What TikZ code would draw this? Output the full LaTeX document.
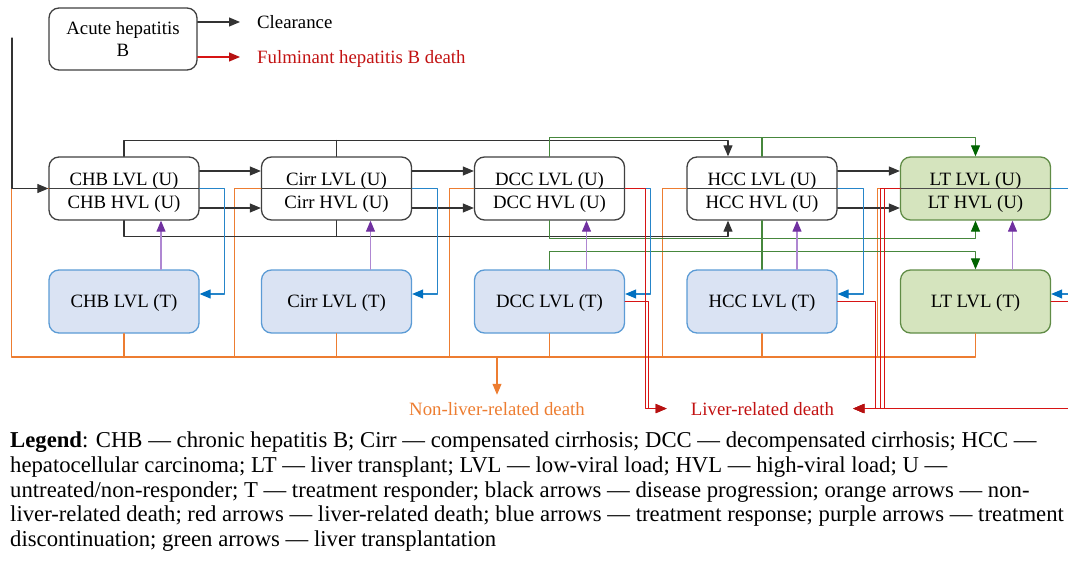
\documentclass[tikz,border=0pt]{standalone}
\usepackage{fontspec}
\setmainfont{Liberation Serif}
\usepackage{xcolor}
\usetikzlibrary{arrows.meta}
\definecolor{OrangeLine}{RGB}{237,125,49}
\definecolor{BlueLine}{RGB}{0,112,192}
\definecolor{RedLine}{RGB}{215,20,20}
\definecolor{GreenLine}{RGB}{70,135,60}
\definecolor{GreenHead}{RGB}{0,100,0}
\definecolor{PurpleLine}{RGB}{175,135,210}
\definecolor{PurpleHead}{RGB}{112,48,160}
\definecolor{TFill}{RGB}{218,227,243}
\definecolor{TLine}{RGB}{91,155,213}
\definecolor{LTFill}{RGB}{213,228,190}
\definecolor{LTLine}{RGB}{96,140,70}
\newcommand{\BoxFont}{\fontsize{18.8}{22.5}\selectfont}
\newcommand{\LegendFont}{\fontsize{22.7}{24.6}\selectfont}
\newcommand{\SplitText}[2]{\rule{0pt}{21.5pt}#1\\#2}

\begin{document}
\begin{tikzpicture}[line cap=round,line join=round,
  >={Triangle[length=11pt,width=9pt]},x=1pt,y=1pt,
  every node/.style={font=\BoxFont},
  ubox/.style={draw=black!75,line width=1.3pt,rounded corners=10pt,
    minimum width=150pt,minimum height=63pt,align=center,fill=white},
  tbox/.style={ubox,draw=TLine,fill=TFill,execute at begin node={\rule{0pt}{17pt}}},
  ltbox/.style={draw=LTLine,fill=LTFill},
  lbl/.style={inner sep=0pt},
  blk/.style={draw=black!80,line width=1.1pt},
  org/.style={draw=OrangeLine,line width=1.1pt,>={Triangle[length=11pt,width=9pt,color=OrangeLine]}},
  blu/.style={draw=BlueLine!85,line width=1.1pt,>={Triangle[length=11pt,width=9pt,color=BlueLine]}},
  rd/.style={draw=RedLine,line width=1.1pt,>={Triangle[length=11pt,width=9pt,color=RedLine!85!black]}},
  grn/.style={draw=GreenLine,line width=1.1pt,>={Triangle[length=11pt,width=9pt,color=GreenHead]}},
  pur/.style={draw=PurpleLine,line width=1.1pt,>={Triangle[length=11pt,width=9pt,color=PurpleHead]}}]
  \useasboundingbox (0,0) rectangle (1068,-564);
  \clip (0,0) rectangle (1068,-564);

  % states
  \node[ubox,minimum width=148pt,minimum height=62pt] (acute) at (123,-39) {Acute hepatitis\\B};
  \node[lbl,anchor=base west] (clear) at (257,-28.5) {Clearance};
  \node[lbl,anchor=base west,text=RedLine!90!black] (fhb) at (257,-63.5) {Fulminant hepatitis B death};
  \node[ubox] (chbU) at (124,-188.5) {\SplitText{CHB LVL (U)}{CHB HVL (U)}};
  \node[ubox] (cirrU) at (336.5,-188.5) {\SplitText{Cirr LVL (U)}{Cirr HVL (U)}};
  \node[ubox] (dccU) at (549.5,-188.5) {\SplitText{DCC LVL (U)}{DCC HVL (U)}};
  \node[ubox] (hccU) at (762,-188.5) {\SplitText{HCC LVL (U)}{HCC HVL (U)}};
  \node[ubox,ltbox] (ltU) at (975.5,-188.5) {\SplitText{LT LVL (U)}{LT HVL (U)}};
  \node[tbox] (chbT) at (124,-301.5) {CHB LVL (T)};
  \node[tbox] (cirrT) at (336.5,-301.5) {Cirr LVL (T)};
  \node[tbox] (dccT) at (549.5,-301.5) {DCC LVL (T)};
  \node[tbox] (hccT) at (762,-301.5) {HCC LVL (T)};
  \node[tbox,ltbox] (ltT) at (975.5,-301.5) {LT LVL (T)};
  \node[lbl,anchor=base,text=OrangeLine] (nld) at (497,-415) {Non-liver-related death};
  \node[lbl,anchor=base,text=RedLine!90!black] (ld) at (762.5,-415) {Liver-related death};
  \coordinate (inflow) at (12,-38);

  % LVL / HVL split
  \draw[black!75,line width=1pt] (chbU.west) -- (chbU.east);
  \draw[black!75,line width=1pt] (cirrU.west) -- (cirrU.east);
  \draw[black!75,line width=1pt] (dccU.west) -- (dccU.east);
  \draw[black!75,line width=1pt] (hccU.west) -- (hccU.east);
  \draw[black!70,line width=1pt] (ltU.west) -- (ltU.east);

  % non-liver-related death
  \draw[org] (chbU.west) -- ++(-37,0) -- ++(0,-168.5) -| (ltT.south);
  \draw[org] (cirrU.west) -- ++(-26,0) -- ++(0,-168.5);
  \draw[org] (dccU.west) -- ++(-24.5,0) -- ++(0,-168.5);
  \draw[org] (hccU.west) -- ++(-24,0) -- ++(0,-168.5);
  \draw[org] (ltU.west) -- ++(-22,0) -- ++(0,-168.5);
  \draw[org] (chbT.south) -- ++(0,-24);
  \draw[org] (cirrT.south) -- ++(0,-24);
  \draw[org] (dccT.south) -- ++(0,-24);
  \draw[org] (hccT.south) -- ++(0,-24);
  \draw[org,->] ([yshift=45]nld.north) -- ([yshift=7]nld.north);

  % disease progression
  \draw[blk,->] ([yshift=17]acute.east) -- ([xshift=-17,yshift=6.5]clear.base west);
  \draw[blk,->] (inflow) |- (chbU.west);
  \draw[blk,->] ([yshift=17.5]chbU.east) -- ([yshift=17.5]cirrU.west);
  \draw[blk,->] ([yshift=-19.5]chbU.east) -- ([yshift=-19.5]cirrU.west);
  \draw[blk,->] ([yshift=17.5]cirrU.east) -- ([yshift=17.5]dccU.west);
  \draw[blk,->] ([yshift=-19.5]cirrU.east) -- ([yshift=-19.5]dccU.west);
  \draw[blk,->] ([yshift=17.5]hccU.east) -- ([yshift=17.5]ltU.west);
  \draw[blk,->] ([yshift=-19.5]hccU.east) -- ([yshift=-19.5]ltU.west);
  \draw[blk,->] (chbU.north) -- ++(0,16) -| ([xshift=-34]hccU.north);
  \draw[blk] (cirrU.north) -- ++(0,16);
  \draw[blk,->] (chbU.south) -- ++(0,-16) -| ([xshift=-34]hccU.south);
  \draw[blk] (cirrU.south) -- ++(0,-16);

  % liver transplantation
  \draw[grn,->] (dccU.north) -- ++(0,18.5) -| (ltU.north);
  \draw[grn] (hccU.north) -- ++(0,18.5);
  \draw[grn,->] (dccU.south) -- ++(0,-18) -| (ltU.south);
  \draw[grn,->] (dccT.north) -- ++(0,18) -| (ltT.north);
  \draw[grn] (hccU.south) -- (hccT.north);

  % treatment discontinuation
  \draw[pur,->] ([xshift=37]chbT.north) -- ([xshift=37]chbU.south);
  \draw[pur,->] ([xshift=34]cirrT.north) -- ([xshift=34]cirrU.south);
  \draw[pur,->] ([xshift=37]dccT.north) -- ([xshift=37]dccU.south);
  \draw[pur,->] ([xshift=35]hccT.north) -- ([xshift=35]hccU.south);
  \draw[pur,->] ([xshift=37]ltT.north) -- ([xshift=37]ltU.south);

  % treatment response
  \draw[blu,->] (chbU.east) -- ++(25,0) |- ([yshift=7.5]chbT.east);
  \draw[blu,->] (cirrU.east) -- ++(25.5,0) |- ([yshift=7.5]cirrT.east);
  \draw[blu,->] (dccU.east) -- ++(25.5,0) |- ([yshift=7.5]dccT.east);
  \draw[blu,->] (hccU.east) -- ++(26,0) |- ([yshift=7.5]hccT.east);
  \draw[blu,->] (ltU.east) -- ++(30,0) |- ([yshift=7.5]ltT.east);

  % liver-related death
  \draw[rd,->] ([yshift=-18]acute.east) -- ([xshift=-17,yshift=6.5]fhb.base west);
  \draw[rd,->] (dccU.east) -- ++(20.5,0) |- ([xshift=-24]ld.west);
  \draw[rd,->] (dccT.east) -- ++(23,0) |- ([xshift=-24]ld.west);
  \draw[rd,->] (hccT.east) -- ++(38,0) |- ([xshift=19]ld.east);
  \draw[rd,->] (ltU.west) -- ++(-19,0) |- ([xshift=19]ld.east);
  \draw[rd,->] (ltU.west) -- ++(-15,0) |- ([xshift=19]ld.east);
  \draw[rd,->] (ltT.east) -- ++(25,0) |- ([xshift=19]ld.east);

  \node[lbl,anchor=north west,align=left,font=\LegendFont] (legend) at (10,-432)
    {\textbf{Legend}: CHB --- chronic hepatitis B; Cirr --- compensated cirrhosis; DCC --- decompensated cirrhosis; HCC ---\\
     hepatocellular carcinoma; LT --- liver transplant; LVL --- low-viral load; HVL --- high-viral load; U ---\\
     untreated/non-responder; T --- treatment responder; black arrows --- disease progression; orange arrows --- non-\\
     liver-related death; red arrows --- liver-related death; blue arrows --- treatment response; purple arrows --- treatment\\
     discontinuation; green arrows --- liver transplantation};
\end{tikzpicture}
\end{document}
